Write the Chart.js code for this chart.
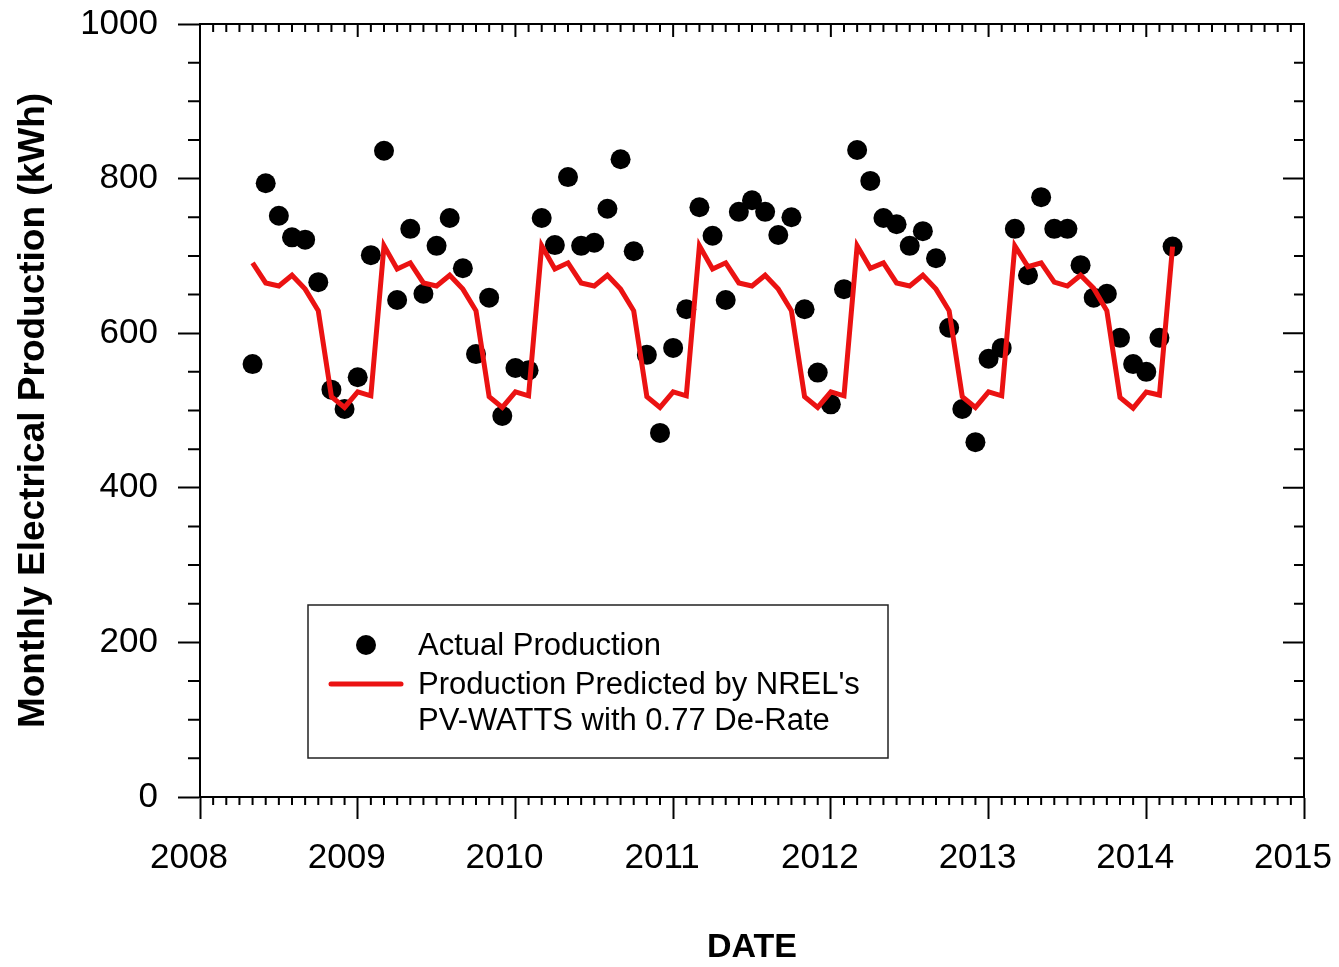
<!DOCTYPE html>
<html>
<head>
<meta charset="utf-8">
<script src="https://cdn.jsdelivr.net/npm/chart.js@4"></script>
<style>
  html, body { margin: 0; padding: 0; background: #fff; }
</style>
</head>
<body>
<canvas id="myChart" width="1339" height="967"></canvas>
<script>
// data //

// one entry per month, May 2008 .. Mar 2014
const months = [
    '2008-05', '2008-06', '2008-07', '2008-08', '2008-09', '2008-10', '2008-11', '2008-12',
    '2009-01', '2009-02', '2009-03', '2009-04', '2009-05', '2009-06', '2009-07', '2009-08', '2009-09', '2009-10', '2009-11', '2009-12',
    '2010-01', '2010-02', '2010-03', '2010-04', '2010-05', '2010-06', '2010-07', '2010-08', '2010-09', '2010-10', '2010-11', '2010-12',
    '2011-01', '2011-02', '2011-03', '2011-04', '2011-05', '2011-06', '2011-07', '2011-08', '2011-09', '2011-10', '2011-11', '2011-12',
    '2012-01', '2012-02', '2012-03', '2012-04', '2012-05', '2012-06', '2012-07', '2012-08', '2012-09', '2012-10', '2012-11', '2012-12',
    '2013-01', '2013-02', '2013-03', '2013-04', '2013-05', '2013-06', '2013-07', '2013-08', '2013-09', '2013-10', '2013-11', '2013-12',
    '2014-01', '2014-02', '2014-03'
];

// actual production (kWh)
const actualProduction = [
    560, 794, 752, 724, 721, 666, 527, 502,
    543, 701, 836, 643, 735, 651, 713, 749, 684, 573, 646, 493,
    555, 552, 749, 714, 802, 713, 717, 761, 825, 706, 572, 471,
    581, 631, 763, 726, 643, 757, 772, 757, 727, 750, 631, 549,
    508, 657, 837, 797, 749, 741, 713, 732, 697, 607, 502, 459,
    567, 581, 735, 675, 776, 735, 735, 688, 646, 651, 594, 560,
    550, 594, 712
];

// PV-WATTS prediction (kWh)
const predictedProduction = [
    691, 665, 661, 675, 657, 629, 518, 504,
    524, 519, 713, 683, 691, 665, 661, 675, 657, 629, 518, 504,
    524, 519, 713, 683, 691, 665, 661, 675, 657, 629, 518, 504,
    524, 519, 713, 683, 691, 665, 661, 675, 657, 629, 518, 504,
    524, 519, 713, 684, 691, 665, 661, 675, 657, 629, 518, 504,
    524, 519, 713, 686, 691, 666, 661, 675, 658, 629, 517, 503,
    524, 520, 712
];

const xLimits = [2008, 2015];
const yLimits = [0, 1000];
const yTickStep = 200;
const yMinorStep = 50;

// functions //

function monthToYear(m) {
    const [yr, mo] = m.split('-').map(Number);
    return yr + (mo - 1) / 12;
}

function points(values) {
    return values.map((v, i) => ({ x: monthToYear(months[i]), y: v }));
}

// box round the plot + the small ticks that chart.js can't do
const frameTicks = {
    id: 'frameTicks',
    afterDraw(chart) {
        const { ctx, chartArea: a, scales: { x, y } } = chart;
        ctx.save();
        ctx.strokeStyle = '#000';
        ctx.lineWidth = 2;
        ctx.beginPath();
        ctx.moveTo(a.left, a.top);
        ctx.lineTo(a.right, a.top);
        ctx.lineTo(a.right, a.bottom);

        const nMonths = Math.round((x.max - x.min) * 12);
        for (let m = 0; m <= nMonths; m++) {
            const px = x.getPixelForValue(x.min + m / 12);
            const major = m % 12 === 0;
            if (!major) {
                ctx.moveTo(px, a.bottom);
                ctx.lineTo(px, a.bottom + 8);
            }
            ctx.moveTo(px, a.top);
            ctx.lineTo(px, a.top + (major ? 13 : 8));
        }

        for (let v = y.min; v <= y.max; v += yMinorStep) {
            const py = y.getPixelForValue(v);
            const major = v % yTickStep === 0;
            if (!major) {
                ctx.moveTo(a.left - 12, py);
                ctx.lineTo(a.left, py);
            }
            ctx.moveTo(a.right, py);
            ctx.lineTo(a.right - (major ? 21 : 10), py);
        }
        ctx.stroke();
        ctx.restore();
    }
};

// legend in a box inside the plot
const boxLegend = {
    id: 'boxLegend',
    afterDraw(chart) {
        const { ctx } = chart;
        const dsLine = chart.data.datasets[0];
        const dsDots = chart.data.datasets[1];
        ctx.save();
        ctx.fillStyle = '#fff';
        ctx.fillRect(308, 605, 580, 153);
        ctx.strokeStyle = '#222';
        ctx.lineWidth = 1.5;
        ctx.strokeRect(308, 605, 580, 153);

        ctx.fillStyle = '#000';
        ctx.beginPath();
        ctx.arc(366, 645, 10, 0, Math.PI * 2);
        ctx.fill();

        ctx.strokeStyle = dsLine.borderColor;
        ctx.lineWidth = 5;
        ctx.lineCap = 'round';
        ctx.beginPath();
        ctx.moveTo(331, 684);
        ctx.lineTo(401, 684);
        ctx.stroke();

        ctx.font = "31px 'Liberation Sans', Arial, sans-serif";
        ctx.textBaseline = 'middle';
        ctx.fillStyle = '#000';
        ctx.fillText(dsDots.label, 418, 646);
        dsLine.label.split('\n').forEach((line, i) => {
            ctx.fillText(line, 418, 685 + i * 36);
        });
        ctx.restore();
    }
};

// MAIN //

Chart.defaults.font.family = "'Liberation Sans', Arial, sans-serif";
Chart.defaults.color = '#000';

let ctx = document.getElementById('myChart').getContext('2d');
let myChart = new Chart(ctx, {
    type: 'scatter',
    data: {
        datasets: [
            {
                type: 'line',
                label: "Production Predicted by NREL's\nPV-WATTS with 0.77 De-Rate",
                data: points(predictedProduction),
                borderColor: 'rgb(235, 18, 18)',
                borderWidth: 5,
                pointRadius: 0,
                tension: 0,
                fill: false,
                order: 0
            },
            {
                label: 'Actual Production',
                data: points(actualProduction),
                backgroundColor: '#000',
                borderWidth: 0,
                pointRadius: 10,
                order: 1
            }
        ]
    },
    options: {
        responsive: false,
        animation: false,
        layout: { padding: { top: 24, right: 35, left: 0, bottom: 0 } },
        plugins: {
            legend: { display: false },
            tooltip: { enabled: false }
        },
        scales: {
            x: {
                type: 'linear',
                position: 'bottom',
                min: xLimits[0],
                max: xLimits[1],
                ticks: {
                    stepSize: 1,
                    font: { size: 35 },
                    color: '#000',
                    padding: 18,
                    labelOffset: -11,
                    maxRotation: 0,
                    autoSkip: false,
                    callback: v => String(v)
                },
                grid: { display: true, drawOnChartArea: false, drawTicks: true, tickLength: 22, tickWidth: 2, tickColor: '#000' },
                border: { display: true, color: '#000', width: 2 },
                title: {
                    display: true,
                    text: 'DATE',
                    font: { size: 34, weight: 'bold', lineHeight: 1.0 },
                    color: '#000',
                    padding: { top: 0, bottom: 2 }
                },
                afterFit: s => { s.height = 170; s.paddingLeft = 0; s.paddingRight = 0; }
            },
            y: {
                type: 'linear',
                min: yLimits[0],
                max: yLimits[1],
                ticks: {
                    stepSize: yTickStep,
                    font: { size: 35 },
                    color: '#000',
                    padding: 20,
                    callback: v => String(v)
                },
                grid: { display: true, drawOnChartArea: false, drawTicks: true, tickLength: 22, tickWidth: 2, tickColor: '#000' },
                border: { display: true, color: '#000', width: 2 },
                title: {
                    display: true,
                    text: 'Monthly Electrical Production (kWh)',
                    font: { size: 37, weight: 'bold', lineHeight: 1.2 },
                    color: '#000',
                    padding: { top: 12, bottom: 0 }
                },
                afterFit: s => { s.width = 200; s.paddingTop = 0; s.paddingBottom = 0; }
            }
        }
    },
    plugins: [frameTicks, boxLegend]
});
</script>
</body>
</html>
